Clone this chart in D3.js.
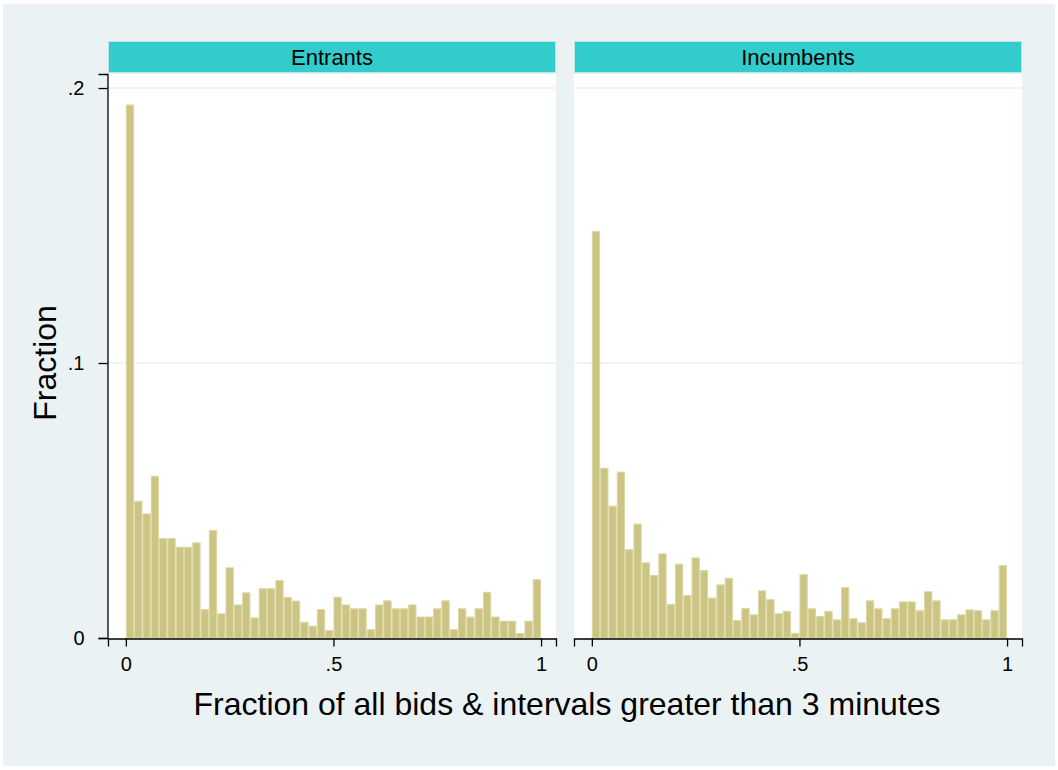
<!DOCTYPE html>
<html>
<head>
<meta charset="utf-8">
<script src="https://cdn.jsdelivr.net/npm/d3@7"></script>
<style>
  body { margin: 0; background: #fff; }
  text { font-family: "Liberation Sans", Arial, sans-serif; fill: #000; }
</style>
</head>
<body>
<div id="chart"></div>
<script>
// histogram bins: 50 bins of width .02 from 0 to 1
var binWidth = 0.02;
var panels = ["Entrants", "Incumbents"];

var entrants = [0.194, 0.0499, 0.0453, 0.0590, 0.0363, 0.0363, 0.0332, 0.0332, 0.0348, 0.0105,
  0.0393, 0.0090, 0.0257, 0.0122, 0.0166, 0.0075, 0.0181, 0.0181, 0.0211, 0.0150,
  0.0136, 0.0059, 0.0045, 0.0105, 0.0029, 0.0150, 0.0122, 0.0108, 0.0108, 0.0032,
  0.0122, 0.0137, 0.0108, 0.0108, 0.0122, 0.0078, 0.0078, 0.0108, 0.0137, 0.0032,
  0.0108, 0.0078, 0.0108, 0.0168, 0.0078, 0.0063, 0.0063, 0.0018, 0.0063, 0.0214];

var incumbents = [0.148, 0.0619, 0.0481, 0.0605, 0.0323, 0.0416, 0.0275, 0.0229, 0.0308, 0.0124,
  0.0270, 0.0156, 0.0293, 0.0247, 0.0147, 0.0195, 0.0219, 0.0065, 0.0109, 0.0086,
  0.0173, 0.0141, 0.0090, 0.0099, 0.0019, 0.0232, 0.0108, 0.0080, 0.0099, 0.0068,
  0.0185, 0.0072, 0.0057, 0.0137, 0.0108, 0.0072, 0.0108, 0.0133, 0.0133, 0.0101,
  0.0170, 0.0137, 0.0068, 0.0068, 0.0086, 0.0104, 0.0101, 0.0068, 0.0101, 0.0265];

var yTicks = [0, 0.1, 0.2];
var yTickLabels = ["0", ".1", ".2"];
var xTicks = [0, 0.5, 1];
var xTickLabels = ["0", ".5", "1"];

var W = 1058, H = 770;
var plotTop = 74, plotBottom = 638;
var panelX = [108, 574];
var panelW = 448;

var svg = d3.select("#chart").append("svg")
    .attr("width", W)
    .attr("height", H)

svg.append("rect")
    .attr("x", 3).attr("y", 4)
    .attr("width", W - 6).attr("height", H - 8)
    .attr("fill", "#eaf2f3")

var yScale = d3.scaleLinear().domain([0, 0.2051]).range([plotBottom, plotTop]);

var data = [entrants, incumbents];

panels.forEach(function(name, p) {
    var x0 = panelX[p];
    var xScale = d3.scaleLinear().domain([-0.043, 1.036]).range([x0, x0 + panelW]);

    // strip header
    svg.append("rect")
        .attr("x", x0 + 0.5).attr("y", 41.5)
        .attr("width", panelW - 1).attr("height", 31)
        .attr("fill", "#33cccc")
        .attr("stroke", "#bfe3e6")
        .attr("stroke-width", 1)
    svg.append("text")
        .attr("x", x0 + panelW / 2)
        .attr("y", 65)
        .attr("text-anchor", "middle")
        .attr("font-size", "22px")
        .text(name)

    // plot region
    svg.append("rect")
        .attr("x", x0).attr("y", plotTop)
        .attr("width", panelW).attr("height", plotBottom - plotTop)
        .attr("fill", "#fff")

    var g = svg.append("g");

    // gridlines
    g.selectAll(".grid")
        .data(yTicks.filter(function(d) { return d > 0; }))
        .enter().append("line")
        .attr("x1", x0).attr("x2", x0 + panelW)
        .attr("y1", function(d) { return yScale(d); })
        .attr("y2", function(d) { return yScale(d); })
        .attr("stroke", "#eaf2f3")
        .attr("stroke-width", 1.5)

    // bars
    g.selectAll(".bar")
        .data(data[p])
        .enter().append("rect")
        .attr("x", function(d, i) { return xScale(i * binWidth) + 0.5; })
        .attr("y", function(d) { return yScale(d) + 0.5; })
        .attr("width", xScale(binWidth) - xScale(0) - 1)
        .attr("height", function(d) { return Math.max(0, plotBottom - yScale(d) - 0.5); })
        .attr("fill", "#cbc483")
        .attr("stroke", "#dcd7a6")
        .attr("stroke-width", 1)

    // x axis
    var xAxis = g.append("g")
        .attr("transform", "translate(0," + (plotBottom + 0.5) + ")")
        .call(d3.axisBottom(xScale)
            .tickValues(xTicks)
            .tickFormat(function(d, i) { return xTickLabels[i]; })
            .tickSizeOuter(0)
            .tickSize(8)
            .tickPadding(10))
    xAxis.select(".domain").attr("stroke", "#000").attr("stroke-width", 1.3)
    xAxis.selectAll(".tick line").attr("stroke", "#000").attr("stroke-width", 1.3)
    xAxis.selectAll("text")
        .attr("font-size", "20px")
        .attr("font-family", "Liberation Sans, Arial, sans-serif")
        .attr("fill", "#000")

    // y axis only on left panel
    if (p === 0) {
        var yAxis = g.append("g")
            .attr("transform", "translate(" + (x0 - 0.5) + ",0)")
            .call(d3.axisLeft(yScale)
                .tickValues(yTicks)
                .tickFormat(function(d, i) { return yTickLabels[i]; })
                .tickSizeOuter(0)
                .tickSize(9)
                .tickPadding(14))
        yAxis.select(".domain").attr("stroke", "#000").attr("stroke-width", 1.3)
        yAxis.selectAll(".tick line").attr("stroke", "#000").attr("stroke-width", 1.3)
        yAxis.selectAll("text")
            .attr("font-size", "20px")
            .attr("font-family", "Liberation Sans, Arial, sans-serif")
            .attr("fill", "#000")
    }
})

// axis titles
svg.append("text")
    .attr("x", 567)
    .attr("y", 715)
    .attr("text-anchor", "middle")
    .attr("font-size", "32px")
    .text("Fraction of all bids & intervals greater than 3 minutes")

svg.append("text")
    .attr("transform", "translate(56, 363) rotate(-90)")
    .attr("text-anchor", "middle")
    .attr("font-size", "32px")
    .text("Fraction")
</script>
</body>
</html>
